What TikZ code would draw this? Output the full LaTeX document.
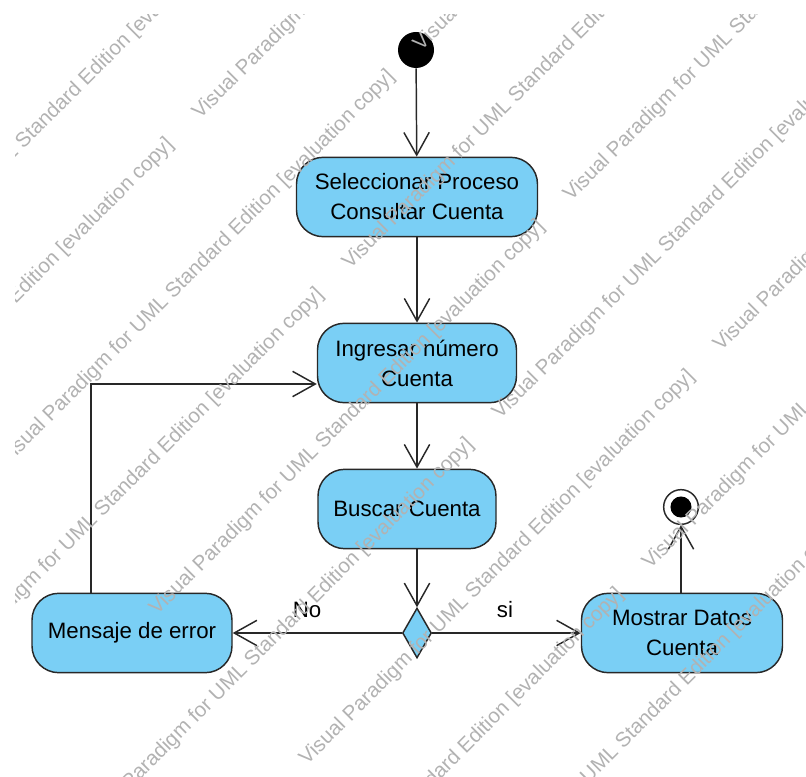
\documentclass[tikz,border=0pt]{standalone}
\usepackage{fontspec}
\setmainfont{Liberation Sans}
\usetikzlibrary{arrows.meta,shapes.geometric,calc}
\definecolor{actfill}{RGB}{122,207,245}
\definecolor{actline}{RGB}{40,40,40}
\definecolor{wmgray}{RGB}{178,178,178}
\newcommand{\wmtext}{Visual Paradigm for UML Standard Edition [evaluation copy]}
\begin{document}
\begin{tikzpicture}[x=0.75pt,y=-0.75pt,
  >={Straight Barb[length=17pt,width=19pt]},
  act/.style={draw=actline,line width=1.1pt,fill=actfill,rounded corners=20pt,
    minimum height=59.5pt,inner sep=0pt,align=center,font=\fontsize{16.7}{22.5}\selectfont},
  flow/.style={->,line width=1.1pt,draw=actline},
  lbl/.style={inner sep=0pt,font=\fontsize{16.7}{20}\selectfont},
  wmark/.style={anchor=base west,inner sep=0pt,rotate=45,text=wmgray,font=\fontsize{15.5}{18}\selectfont}]
  \useasboundingbox (0,0) rectangle (806,777);
  \node[circle,fill=black,minimum size=27pt,inner sep=0pt] (start) at (416,50) {};
  \node[act,minimum width=180.75pt] (sel) at (417,197) {Seleccionar Proceso\\Consultar Cuenta};
  \node[act,minimum width=149.25pt] (ing) at (417,363) {Ingresar número\\Cuenta};
  \node[act,minimum width=133.5pt] (bus) at (407,509) {Buscar Cuenta};
  \node[diamond,draw=actline,line width=1.1pt,fill=actfill,minimum width=21.75pt,
    minimum height=37.5pt,inner sep=0pt] (dec) at (417,633) {};
  \node[act,minimum width=150pt] (msg) at (132,633) {Mensaje de error};
  \node[act,minimum width=150.75pt] (mos) at (682,633) {Mostrar Datos\\Cuenta};
  \node[circle,draw=actline,line width=1.1pt,fill=white,minimum size=26pt,inner sep=0pt] (end) at (681,507) {};
  \fill[black] (end.center) circle (7.9pt);

  \draw[flow] (start) -- (sel);
  \draw[flow] (sel) -- (ing);
  \draw[flow] (ing.south) -- (ing.south |- bus.north);
  \draw[flow] (dec |- bus.south) -- (dec.north);
  \draw[flow] (dec) -- node[lbl,pos=0.56,anchor=base,yshift=12pt] {No} (msg);
  \draw[flow] (dec) -- node[lbl,pos=0.49,anchor=base,yshift=12pt] {si} (mos);
  \draw[flow] (mos.north -| end) -- (end);
  \draw[flow] ($(msg.north)+(-41,0)$) |- ($(ing.west)+(0,21)$);

  \begin{scope}
    \clip (15,15) rectangle (806,777);
    \foreach \s in {173,473,773,1073,1373}
      \foreach \t in {-459,369}
        \node[wmark] (wa\s\t) at ({(\s+\t)/2},{(\s-\t)/2}) {\wmtext};
    \foreach \s in {20,320,620,920,1220}
      \foreach \t in {-748,80}
        \node[wmark] (wb\s\t) at ({(\s+\t)/2},{(\s-\t)/2}) {\wmtext};
  \end{scope}
\end{tikzpicture}
\end{document}
